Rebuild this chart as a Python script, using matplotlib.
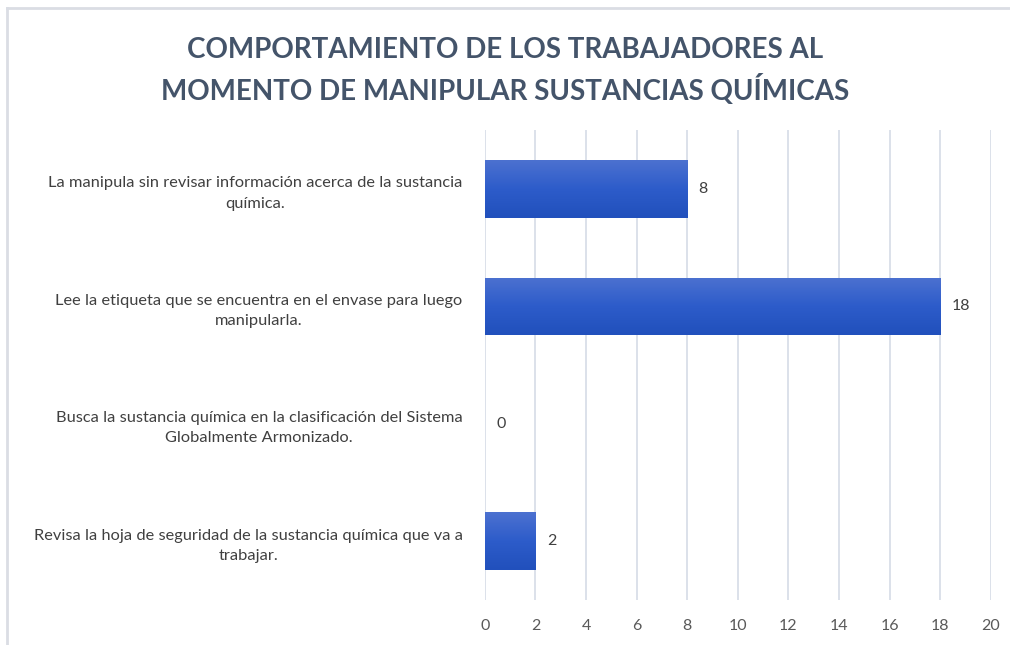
import matplotlib
matplotlib.use('Agg')

import numpy as np
import matplotlib.pyplot as plt
from matplotlib.lines import Line2D

# Data
categories = [
    'La manipula sin revisar información acerca de la sustancia\nquímica.',
    'Lee la etiqueta que se encuentra en el envase para luego\nmanipularla.',
    'Busca la sustancia química en la clasificación del Sistema\nGlobalmente Armonizado.',
    'Revisa la hoja de seguridad de la sustancia química que va a\ntrabajar.',
]
values = [8, 18, 0, 2]
xticks = [0, 2, 4, 6, 8, 10, 12, 14, 16, 18, 20]
title = 'COMPORTAMIENTO DE LOS TRABAJADORES AL\nMOMENTO DE MANIPULAR SUSTANCIAS QUÍMICAS'

plt.rcParams['font.family'] = ['Lato', 'DejaVu Sans']

fig = plt.figure(figsize=(10.1, 6.45), dpi=100)
ax = fig.add_axes([0.480, 0.070, 0.501, 0.728])

y = np.arange(len(categories))
bars = ax.barh(y, values, height=0.49, color='#2F5DC8', zorder=2)

# gradient fill for bars
grad = np.linspace(0, 1, 100).reshape(-1, 1)
cmap = matplotlib.colors.LinearSegmentedColormap.from_list('g', ['#4C71D0', '#2D5CCA', '#2150BC'])
for b in bars:
    if b.get_width() <= 0:
        continue
    x0, y0, w, h = b.get_x(), b.get_y(), b.get_width(), b.get_height()
    im = ax.imshow(grad, extent=[x0, x0 + w, y0 + h, y0], origin='upper',
                   cmap=cmap, aspect='auto', zorder=3)
    im.set_clip_path(b)

ax.set_xlim(0, 20)
ax.set_ylim(len(categories) - 0.5, -0.5)
ax.set_xticks(xticks)
ax.set_yticks(y)
ax.set_yticklabels(categories, multialignment='center', fontsize=11.8, color='#404040',
                   linespacing=1.55)
ax.tick_params(axis='x', length=0, pad=14, labelsize=11.5, labelcolor='#595959')
ax.tick_params(axis='y', length=0, pad=16)
ax.grid(axis='x', color='#D5DCE6', linewidth=1.2, zorder=0)
for s in ax.spines.values():
    s.set_visible(False)

for yi, v in zip(y, values):
    ax.text(v + 0.45, yi, str(v), va='center', ha='left', fontsize=11.5, color='#404040')

fig.text(0.5, 0.89, title, ha='center', va='center', fontsize=20, fontweight='bold',
         color='#44546A', linespacing=1.45)

# chart border (top and left visible)
fig.add_artist(Line2D([0.007, 1.0], [0.987, 0.987], color='#DADDE4', linewidth=2, transform=fig.transFigure))
fig.add_artist(Line2D([0.007, 0.007], [0.0, 0.987], color='#DADDE4', linewidth=2, transform=fig.transFigure))

fig.savefig('out.png', dpi=100)
